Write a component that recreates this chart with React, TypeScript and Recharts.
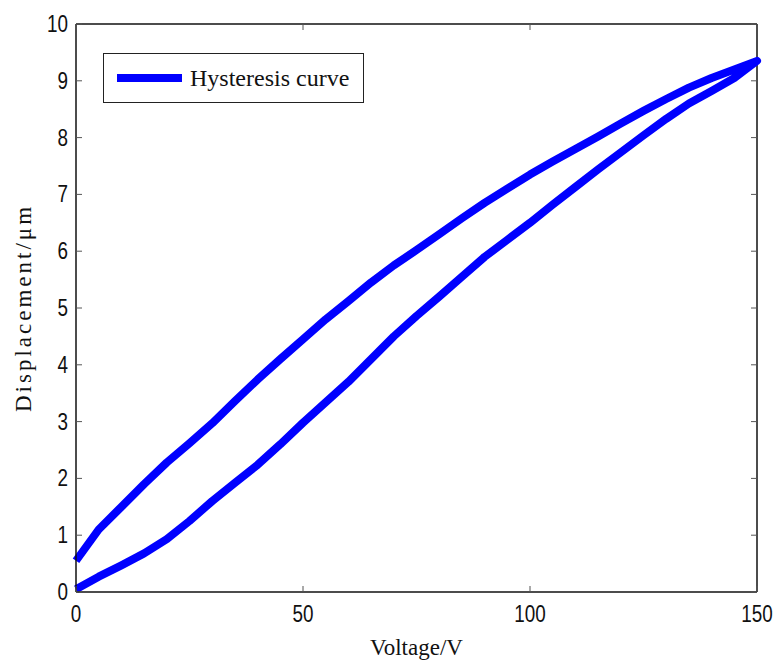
import { LineChart, Line, XAxis, YAxis, ReferenceLine, Legend } from 'recharts';

// loading branch (lower curve), voltage going up
const voltageUp = [0, 5, 10, 15, 20, 25, 30, 35, 40, 45, 50, 55, 60, 65, 70, 75, 80, 85, 90, 95, 100, 105, 110, 115, 120, 125, 130, 135, 140, 145, 150];
const displacementUp = [0.05, 0.27, 0.47, 0.68, 0.93, 1.25, 1.6, 1.92, 2.24, 2.6, 2.98, 3.34, 3.7, 4.1, 4.5, 4.86, 5.2, 5.55, 5.9, 6.2, 6.5, 6.82, 7.13, 7.44, 7.74, 8.04, 8.33, 8.6, 8.82, 9.05, 9.35];

// unloading branch (upper curve), voltage going down
const voltageDown = [150, 145, 140, 135, 130, 125, 120, 115, 110, 105, 100, 95, 90, 85, 80, 75, 70, 65, 60, 55, 50, 45, 40, 35, 30, 25, 20, 15, 10, 5, 0];
const displacementDown = [9.35, 9.2, 9.05, 8.88, 8.68, 8.47, 8.25, 8.02, 7.8, 7.58, 7.35, 7.1, 6.85, 6.58, 6.3, 6.02, 5.75, 5.45, 5.12, 4.8, 4.45, 4.1, 3.74, 3.36, 2.97, 2.62, 2.28, 1.9, 1.5, 1.1, 0.55];

const xTicks = [0, 50, 100, 150];
const yTicks = [0, 1, 2, 3, 4, 5, 6, 7, 8, 9, 10];

const data = [
  ...voltageUp.map((v, i) => ({ v, d: displacementUp[i] })),
  ...voltageDown.map((v, i) => ({ v, d: displacementDown[i] })),
];

// plot box in page pixels (chart is 777x661)
const BOX = { left: 76, right: 757, top: 24, bottom: 592 };
const TICK_LEN = 6;
const TICK_COLOR = '#555';
const NUM_FONT = '"Liberation Sans", Arial, sans-serif';
const SERIF = '"Liberation Serif", "Times New Roman", serif';

function YTick(props: any) {
  const { y, payload } = props;
  return (
    <g>
      <line x1={BOX.left} x2={BOX.left + TICK_LEN} y1={y} y2={y} stroke={TICK_COLOR} />
      <line x1={BOX.right - TICK_LEN} x2={BOX.right} y1={y} y2={y} stroke={TICK_COLOR} />
      <text
        transform={`translate(${BOX.left - 8},${y + 8}) scale(0.82,1)`}
        textAnchor="end"
        fontFamily={NUM_FONT}
        fontSize={23}
        fill="#111"
      >
        {payload.value}
      </text>
    </g>
  );
}

function XTick(props: any) {
  const { x, payload } = props;
  return (
    <g>
      <line x1={x} x2={x} y1={BOX.bottom} y2={BOX.bottom - TICK_LEN} stroke={TICK_COLOR} />
      <line x1={x} x2={x} y1={BOX.top} y2={BOX.top + TICK_LEN} stroke={TICK_COLOR} />
      <text
        transform={`translate(${x},${BOX.bottom + 30}) scale(0.82,1)`}
        textAnchor="middle"
        fontFamily={NUM_FONT}
        fontSize={23}
        fill="#111"
      >
        {payload.value}
      </text>
    </g>
  );
}

function LegendBox() {
  return (
    <div
      style={{
        width: 261,
        height: 50,
        boxSizing: 'border-box',
        border: '1.5px solid #222',
        background: '#fff',
        display: 'flex',
        alignItems: 'center',
      }}
    >
      <div style={{ width: 65, height: 8, background: '#0000ff', marginLeft: 13 }} />
      <span style={{ marginLeft: 8, fontFamily: SERIF, fontSize: 24, color: '#111', whiteSpace: 'nowrap' }}>
        Hysteresis curve
      </span>
    </div>
  );
}

export default function App() {
  return (
    <div style={{ position: 'absolute', left: 0, top: 0, background: '#fff' }}>
      <LineChart width={777} height={661} data={data} margin={{ top: 24, right: 20, left: 0, bottom: 0 }}>
        <XAxis
          dataKey="v"
          type="number"
          domain={[0, 150]}
          ticks={xTicks}
          height={69}
          tickSize={0}
          tickMargin={0}
          tick={<XTick />}
          axisLine={{ stroke: '#111', strokeWidth: 1.5 }}
          label={{
            content: (p: any) => {
              const vb = p.viewBox;
              return (
                <text x={vb.x + vb.width / 2} y={vb.y + 63} textAnchor="middle" fontFamily={SERIF} fontSize={23} fill="#111">
                  Voltage/V
                </text>
              );
            },
          }}
        />
        <YAxis
          type="number"
          domain={[0, 10]}
          ticks={yTicks}
          width={76}
          tickSize={0}
          tickMargin={8}
          tick={<YTick />}
          axisLine={{ stroke: '#111', strokeWidth: 1.5 }}
          label={{
            content: (p: any) => {
              const vb = p.viewBox;
              const cy = vb.y + vb.height / 2;
              return (
                <text
                  transform={`translate(${vb.x + 31},${cy}) rotate(-90)`}
                  textAnchor="middle"
                  fontFamily={SERIF}
                  fontSize={23}
                  letterSpacing={3}
                  fill="#111"
                >
                  Displacement/μm
                </text>
              );
            },
          }}
        />
        <ReferenceLine y={10} stroke="#111" strokeWidth={1.5} />
        <ReferenceLine x={150} stroke="#111" strokeWidth={1.5} />
        <Legend
          layout="horizontal"
          verticalAlign="middle"
          align="center"
          content={<LegendBox />}
          wrapperStyle={{ left: 103, top: 53, width: 261 }}
        />
        <Line
          dataKey="d"
          name="Hysteresis curve"
          stroke="#0000ff"
          strokeWidth={8}
          strokeLinejoin="round"
          dot={false}
          isAnimationActive={false}
        />
      </LineChart>
    </div>
  );
}
